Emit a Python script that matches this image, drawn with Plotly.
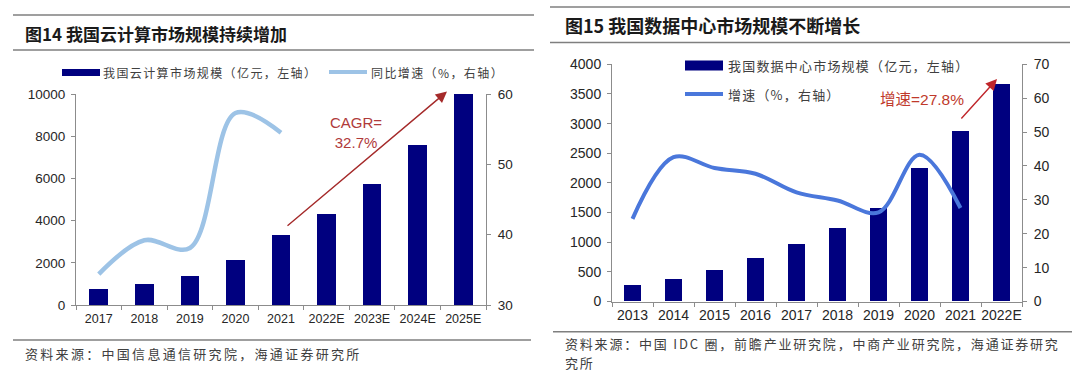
import plotly.graph_objects as go

W, H = 1080, 374

# ---------------- data ----------------
cloud_years = ["2017", "2018", "2019", "2020", "2021", "2022E", "2023E", "2024E", "2025E"]
cloud_size = [740, 1000, 1380, 2140, 3300, 4320, 5720, 7580, 10000]
cloud_growth_years = ["2017", "2018", "2019", "2020", "2021"]
cloud_growth = [34.4, 39.2, 38.1, 57.3, 54.5]

dc_years = ["2013", "2014", "2015", "2016", "2017", "2018", "2019", "2020", "2021", "2022E"]
dc_size = [265, 372, 524, 721, 958, 1234, 1566, 2242, 2865, 3670]
dc_growth_years = ["2013", "2014", "2015", "2016", "2017", "2018", "2019", "2020", "2021"]
dc_growth = [24.4, 42.6, 39.4, 37.7, 32.2, 29.8, 26.3, 43.3, 27.6]

title_left = "图14 我国云计算市场规模持续增加"
title_right = "图15 我国数据中心市场规模不断增长"
legend_left = ["我国云计算市场规模（亿元，左轴）", "同比增速（%，右轴）"]
legend_right = ["我国数据中心市场规模（亿元，左轴）", "增速（%，右轴）"]
source_left = "资料来源：中国信息通信研究院，海通证券研究所"
source_right = ["资料来源：中国 IDC 圈，前瞻产业研究院，中商产业研究院，海通证券研究", "究所"]
cagr_text = "CAGR=<br>32.7%"
growth_text = "增速=27.8%"

# ---------------- styles ----------------
NAVY = "#00007F"
LIGHT_BLUE = "#9DC3E6"
BLUE = "#4A77DB"
RED = "#B03A3A"
GRAY = "#8C8C8C"
TXT = "#262626"
CJK = "Noto Sans CJK SC"
LAT = "Liberation Sans, Arial"


def px(x):
    return x / W


def py(y):
    return 1 - y / H


fig = go.Figure()

# left panel
fig.add_trace(go.Bar(x=cloud_years, y=cloud_size, marker_color=NAVY, width=0.41,
                     xaxis="x", yaxis="y", showlegend=False))
fig.add_trace(go.Scatter(x=cloud_growth_years, y=cloud_growth, mode="lines",
                         line=dict(color=LIGHT_BLUE, width=4.5, shape="spline", smoothing=1.0),
                         xaxis="x", yaxis="y2", showlegend=False))
# right panel
fig.add_trace(go.Bar(x=dc_years, y=dc_size, marker_color=NAVY, width=0.42,
                     xaxis="x2", yaxis="y3", showlegend=False))
fig.add_trace(go.Scatter(x=dc_growth_years, y=dc_growth, mode="lines",
                         line=dict(color=BLUE, width=4, shape="spline", smoothing=1.0),
                         xaxis="x2", yaxis="y4", showlegend=False))

axis_common = dict(showgrid=False, zeroline=False, showline=True, linecolor=GRAY, linewidth=1,
                   ticks="outside", ticklen=4, tickcolor=GRAY, fixedrange=True, automargin=False)

Lx = [px(76), px(486)]
Ly = [py(305), py(94)]
Rx = [px(612), px(1022)]
Ry = [py(301.5), py(64.3)]

fig.update_layout(
    template="none",
    width=W, height=H, margin=dict(l=0, r=0, t=0, b=0, pad=0), autosize=False,
    paper_bgcolor="white", plot_bgcolor="white", showlegend=False,
    bargap=0,
    xaxis=dict(domain=Lx, anchor="y", type="category", tickson="boundaries", tickangle=0,
               tickfont=dict(family=LAT, size=12.5, color=TXT), ticklabelstandoff=2, **axis_common),
    yaxis=dict(domain=Ly, anchor="x", range=[0, 10000], dtick=2000, tickformat="d",
               tickfont=dict(family=LAT, size=13.5, color=TXT), ticklabelstandoff=3, **axis_common),
    yaxis2=dict(overlaying="y", anchor="x", side="right", range=[30, 60], dtick=10, tickformat="d",
                tickfont=dict(family=LAT, size=13.5, color=TXT), ticklabelstandoff=4, **axis_common),
    xaxis2=dict(domain=Rx, anchor="y3", type="category", tickson="boundaries", tickangle=0,
                tickfont=dict(family=LAT, size=14, color=TXT), ticklabelstandoff=1, **axis_common),
    yaxis3=dict(domain=Ry, anchor="x2", range=[0, 4000], dtick=500, tickformat="d",
                tickfont=dict(family=LAT, size=14, color=TXT), ticklabelstandoff=3, **axis_common),
    yaxis4=dict(overlaying="y3", anchor="x2", side="right", range=[0, 70], dtick=10, tickformat="d",
                tickfont=dict(family=LAT, size=14, color=TXT), ticklabelstandoff=4, **axis_common),
)

shapes = []


def hline(x0, x1, y, color="#7F7F7F", width=1.6):
    shapes.append(dict(type="line", xref="paper", yref="paper", x0=px(x0), x1=px(x1),
                       y0=py(y), y1=py(y), line=dict(color=color, width=width)))


# rules
hline(13, 534, 15)
hline(13, 534, 50)
hline(13, 531, 340)
hline(550, 1070, 7)
hline(550, 1070, 42.5)
hline(553, 1072, 331.7)

# legend swatches
shapes.append(dict(type="rect", xref="paper", yref="paper", x0=px(62), x1=px(100), y0=py(76), y1=py(69),
                   fillcolor=NAVY, line=dict(width=0)))
shapes.append(dict(type="line", xref="paper", yref="paper", x0=px(329), x1=px(367), y0=py(72), y1=py(72),
                   line=dict(color=LIGHT_BLUE, width=4)))
shapes.append(dict(type="rect", xref="paper", yref="paper", x0=px(685), x1=px(723), y0=py(70.5), y1=py(60.5),
                   fillcolor=NAVY, line=dict(width=0)))
shapes.append(dict(type="line", xref="paper", yref="paper", x0=px(685), x1=px(723), y0=py(94), y1=py(94),
                   line=dict(color=BLUE, width=4)))
fig.update_layout(shapes=shapes)

ann = []


def text(x, y, s, size, color=TXT, family=CJK, weight="normal", ls=0, xanchor="left"):
    if ls:
        s = f'<span style="letter-spacing:{ls}px">{s}</span>'
    ann.append(dict(xref="paper", yref="paper", x=px(x), y=py(y), text=s, showarrow=False,
                    xanchor=xanchor, yanchor="middle", borderpad=0,
                    font=dict(family=family, size=size, color=color, weight=weight)))


text(24, 33, title_left, 17, color="#1A1A1A", weight="bold")
text(564, 25.5, title_right, 18, color="#1A1A1A", weight="bold")
text(102, 72, legend_left[0], 12, color="#404040", ls=1.4)
text(370, 72, legend_left[1], 12, color="#404040", ls=1.4)
text(727, 65.5, legend_right[0], 13, color="#404040", ls=1.2)
text(727, 94, legend_right[1], 13, color="#404040", ls=1.2)
text(24, 353, source_left, 13, color="#404040", ls=2.3)
text(564, 343, source_right[0], 13, color="#404040", ls=1.8)
text(564, 362, source_right[1], 13, color="#404040", ls=1.8)

ann.append(dict(xref="paper", yref="paper", x=px(356), y=py(132), text=cagr_text, showarrow=False,
                xanchor="center", yanchor="middle", align="center",
                font=dict(family=LAT, size=15, color=RED)))
ann.append(dict(xref="paper", yref="paper", x=px(922), y=py(99.5), text=growth_text, showarrow=False,
                xanchor="center", yanchor="middle",
                font=dict(family=LAT + ", " + CJK, size=15.5, color="#C0392B")))

# arrows
ann.append(dict(xref="paper", yref="paper", x=px(447), y=py(91.5), ax=286 - 447, ay=227 - 91.5,
                axref="pixel", ayref="pixel", text="", showarrow=True, arrowhead=2, arrowsize=1.6,
                arrowwidth=1.4, arrowcolor="#A52A2A"))
ann.append(dict(xref="paper", yref="paper", x=px(997), y=py(79), ax=960 - 997, ay=120 - 79,
                axref="pixel", ayref="pixel", text="", showarrow=True, arrowhead=2, arrowsize=1.6,
                arrowwidth=1.4, arrowcolor="#C0262B"))
fig.update_layout(annotations=ann)

fig.write_html("out.html", config={"displayModeBar": False},
               post_script="document.body.style.margin='0';")
